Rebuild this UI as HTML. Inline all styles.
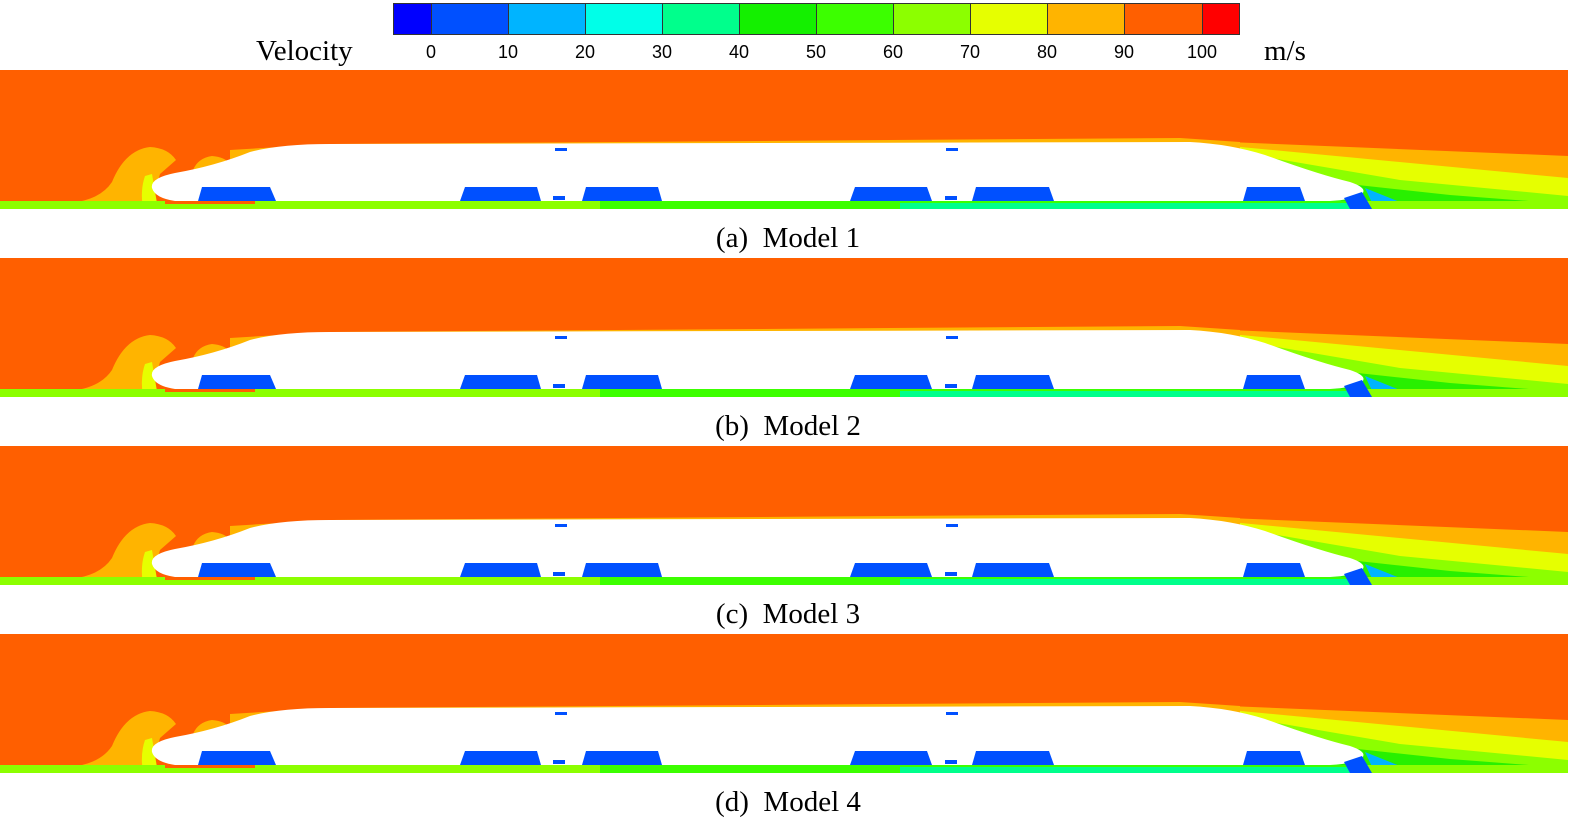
<!DOCTYPE html>
<html><head><meta charset="utf-8"><style>
html,body{margin:0;padding:0;background:#fff;width:1594px;height:837px;overflow:hidden}
</style></head><body>
<svg width="1594" height="837" viewBox="0 0 1594 837" xmlns="http://www.w3.org/2000/svg">
<defs>
<g id="panel">
  <rect x="0" y="0" width="1568" height="139" fill="#FF5F00"/>
  <!-- wake layers -->
  <path d="M1180,70 L1568,86 L1568,139 L1180,139 Z" fill="#FFB400"/>
  <path d="M1230,76 L1568,108 L1568,139 L1230,139 Z" fill="#E6FF00"/>
  <path d="M1260,86 L1400,110 L1568,126 L1568,139 L1260,139 Z" fill="#8CFF00"/>
  <path d="M1330,112 L1450,125 L1568,134 L1568,139 L1330,139 Z" fill="#28F000"/>
  <path d="M1365,118 L1400,132 L1420,139 L1375,139 Z" fill="#00B4FF"/>
  <!-- upper boundary layer -->
  <path d="M230,80 L330,74 L1180,68 L1240,72 L1240,80 L230,90 Z" fill="#FFB400"/>
  <!-- front vortices -->
  <path d="M0,136 L70,133 Q100,130 112,112 Q125,80 150,77 Q168,78 176,90 L160,104 L150,139 L0,139 Z" fill="#FFB400"/>
  <path d="M193,100 Q198,88 212,86 Q225,87 230,94 L210,100 Z" fill="#FFB400"/>
  <path d="M145,106 L152,104 L158,139 L143,139 Q140,120 145,106 Z" fill="#E6FF00"/>
  <!-- ground strip -->
  <rect x="0" y="131" width="1568" height="8" fill="#8CFF00"/>
  <rect x="600" y="131" width="760" height="8" fill="#3CFF00"/>
  <rect x="900" y="133" width="460" height="6" fill="#00FF8C"/>
  <rect x="165" y="130" width="90" height="4" fill="#FF5F00"/>
  <!-- train body -->
  <path d="M152,118 Q150,108 175,103 Q215,96 250,82 Q280,74 330,74 L1190,72 Q1230,74 1265,85 Q1320,105 1350,112 Q1368,118 1362,124 Q1352,130 1330,131 L175,131 Q155,128 152,118 Z" fill="#fff"/>
  <!-- bogies -->
  <path d="M198,131 L202,117 L270,117 L276,131 Z" fill="#0050FF"/>
  <path d="M460,131 L465,117 L537,117 L541,131 Z" fill="#0050FF"/>
  <path d="M582,131 L586,117 L658,117 L662,131 Z" fill="#0050FF"/>
  <path d="M850,131 L855,117 L927,117 L932,131 Z" fill="#0050FF"/>
  <path d="M972,131 L976,117 L1049,117 L1054,131 Z" fill="#0050FF"/>
  <path d="M1243,131 L1247,117 L1300,117 L1305,131 Z" fill="#0050FF"/>
  <rect x="553" y="126" width="12" height="4" fill="#0050FF"/>
  <rect x="945" y="126" width="12" height="4" fill="#0050FF"/>
  <rect x="555" y="78" width="12" height="3" fill="#0050FF"/>
  <rect x="946" y="78" width="12" height="3" fill="#0050FF"/>
  <path d="M1344,128 L1362,122 L1372,139 L1350,139 Z" fill="#0050FF"/>
</g>
</defs>
<!-- colorbar -->
<rect x="393" y="3" width="38" height="32" fill="#0000FF"/>
<rect x="431" y="3" width="77" height="32" fill="#0050FF"/>
<rect x="508" y="3" width="77" height="32" fill="#00B4FF"/>
<rect x="585" y="3" width="77" height="32" fill="#00FFE8"/>
<rect x="662" y="3" width="77" height="32" fill="#00FF8C"/>
<rect x="739" y="3" width="77" height="32" fill="#14F000"/>
<rect x="816" y="3" width="77" height="32" fill="#3CFF00"/>
<rect x="893" y="3" width="77" height="32" fill="#8CFF00"/>
<rect x="970" y="3" width="77" height="32" fill="#E6FF00"/>
<rect x="1047" y="3" width="77" height="32" fill="#FFB400"/>
<rect x="1124" y="3" width="78" height="32" fill="#FF5F00"/>
<rect x="1202" y="3" width="38" height="32" fill="#FF0000"/>
<g stroke="#333" stroke-width="1" fill="none">
<rect x="393.5" y="3.5" width="846" height="31"/>
<path d="M431.5,3V35M508.5,3V35M585.5,3V35M662.5,3V35M739.5,3V35M816.5,3V35M893.5,3V35M970.5,3V35M1047.5,3V35M1124.5,3V35M1202.5,3V35"/>
</g>
<g font-family="Liberation Sans, sans-serif" font-size="18" fill="#000" text-anchor="middle">
<text x="431" y="58">0</text><text x="508" y="58">10</text><text x="585" y="58">20</text><text x="662" y="58">30</text><text x="739" y="58">40</text><text x="816" y="58">50</text><text x="893" y="58">60</text><text x="970" y="58">70</text><text x="1047" y="58">80</text><text x="1124" y="58">90</text><text x="1202" y="58">100</text>
</g>
<g font-family="Liberation Serif, serif" font-size="29" fill="#000">
<text x="256" y="60">Velocity</text>
<text x="1264" y="60">m/s</text>
</g>
<use href="#panel" x="0" y="70"/>
<use href="#panel" x="0" y="258"/>
<use href="#panel" x="0" y="446"/>
<use href="#panel" x="0" y="634"/>
<g font-family="Liberation Serif, serif" font-size="29" fill="#000" text-anchor="middle">
<text x="788" y="247" xml:space="preserve">(a)  Model 1</text>
<text x="788" y="435" xml:space="preserve">(b)  Model 2</text>
<text x="788" y="623" xml:space="preserve">(c)  Model 3</text>
<text x="788" y="811" xml:space="preserve">(d)  Model 4</text>
</g>
</svg>
</body></html>
